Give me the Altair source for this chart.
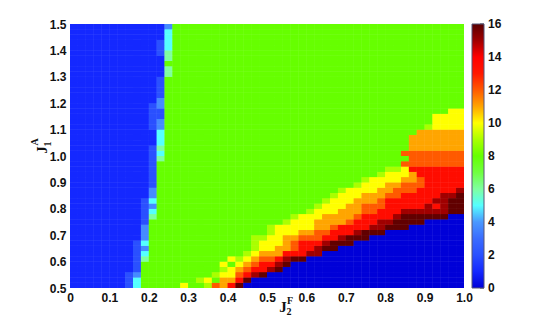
import altair as alt
import pandas as pd

X_TICKS = [0, 0.1, 0.2, 0.3, 0.4, 0.5, 0.6, 0.7, 0.8, 0.9, 1.0]
Y_TICKS = [0.5, 0.6, 0.7, 0.8, 0.9, 1.0, 1.1, 1.2, 1.3, 1.4, 1.5]
BAR_TICKS = [0, 2, 4, 6, 8, 10, 12, 14, 16]
STOP_VALUES = [0, 1, 2, 3, 4, 5, 6, 7, 8, 9, 10, 11, 12, 13, 14, 15, 16]
STOP_COLORS = ["#0000d8", "#1428ff", "#2a50ff", "#3a6cff", "#4a98ff", "#55ffff", "#7fffa0", "#70ff40",
               "#66ff00", "#aaff00", "#ffff00", "#ffa500", "#ff5a00", "#ff1800", "#ff0000", "#a00000", "#5a0000"]

CODES = {"B": 0, "b": 1, "l": 2, "m": 3.7, "c": 5, "a": 6, "G": 8, "L": 9, "Y": 10,
         "O": 11, "P": 12, "R": 13.5, "D": 15, "K": 15.9}

# column:code runs per row, bottom row first
ROWS = [
 "0:b 7:l 8:c 9:G 14:Y 15:G 17:L 18:P 19:O 20:R 21:K 22:B",
 "0:b 7:l 8:c 9:G 16:L 17:Y 18:G 19:O 21:R 22:K 23:B",
 "0:b 7:l 8:m 9:G 18:L 19:Y 21:P 22:R 23:D 24:K 25:B",
 "0:b 8:l 9:G 19:L 20:Y 21:O 22:P 23:R 24:R 25:D 26:K 27:B",
 "0:b 8:l 9:G 19:Y 20:G 21:Y 22:O 23:P 24:R 26:D 27:K 28:B",
 "0:b 8:l 9:a 10:G 20:Y 21:L 22:Y 23:O 24:P 26:R 27:D 28:K 30:B",
 "0:b 8:l 9:c 10:G 22:L 23:Y 24:O 27:R 30:D 32:B",
 "0:b 8:l 9:m 10:G 23:L 24:Y 26:O 28:P 29:R 31:D 32:K 34:B",
 "0:b 8:l 9:c 10:G 23:L 24:Y 27:O 28:P 29:R 32:D 33:K 36:B",
 "0:b 9:m 10:G 23:L 24:L 25:Y 27:O 29:P 32:R 34:D 35:K 38:B",
 "0:b 9:m 10:G 25:L 26:Y 29:O 31:P 33:R 36:D 37:K 40:B",
 "0:b 9:m 10:G 25:L 26:Y 31:O 33:P 34:R 38:D 40:K 43:B",
 "0:b 9:l 10:G 27:L 28:Y 31:O 35:P 36:R 39:D 41:K 45:B",
 "0:b 9:l 10:a 11:G 28:L 29:Y 32:O 36:P 37:R 41:D 42:K 48:B",
 "0:b 9:l 10:c 11:G 30:L 31:Y 34:O 37:P 39:R 42:D 48:K",
 "0:b 9:l 10:m 11:G 31:L 32:Y 35:O 37:P 40:R 45:D 46:R 47:D 48:K",
 "0:b 9:l 10:c 11:G 32:L 33:Y 36:O 39:P 40:R 46:D 48:K",
 "0:b 10:m 11:G 33:L 34:Y 37:O 40:P 42:R 47:D 49:K",
 "0:b 10:m 11:G 34:L 35:Y 39:O 41:P 44:R 49:D",
 "0:b 10:l 11:G 36:L 37:Y 40:O 42:P 45:R",
 "0:b 10:l 11:G 37:L 38:Y 42:O 44:P 45:R",
 "0:b 10:l 11:G 39:L 40:Y 43:O 44:R",
 "0:b 10:l 11:G 40:L 42:Y 43:R",
 "0:b 10:l 11:G 42:P",
 "0:b 10:l 11:a 12:G 43:P",
 "0:b 10:l 11:c 12:G 42:P",
 "0:b 10:l 11:a 12:G 43:O",
 "0:b 11:c 12:G 43:O",
 "0:b 11:c 12:G 43:O",
 "0:b 11:c 12:G 44:O",
 "0:b 10:l 11:m 12:G 45:L 46:Y",
 "0:b 10:l 11:m 12:G 46:Y",
 "0:b 10:l 11:l 12:G 46:Y",
 "0:b 10:l 11:l 12:G 48:Y",
 "0:b 10:l 11:m 12:G",
 "0:b 11:m 12:G",
 "0:b 11:l 12:G",
 "0:b 11:l 12:G",
 "0:b 11:l 12:G",
 "0:b 11:l 12:G",
 "0:b 12:a 13:G",
 "0:b 12:a 13:G",
 "0:b 12:G 13:G",
 "0:b 12:a 13:G",
 "0:b 11:l 12:a 13:G",
 "0:b 11:l 12:c 13:G",
 "0:b 11:l 12:c 13:G",
 "0:b 12:c 13:G",
 "0:b 12:c 13:G",
 "0:b 12:m 13:G",
]

N = 50
records = []
for r, spec in enumerate(ROWS):
    runs = [(int(p.split(":")[0]), p.split(":")[1]) for p in spec.split()]
    for i, (start, code) in enumerate(runs):
        end = runs[i + 1][0] if i + 1 < len(runs) else N
        for c in range(start, end):
            records.append({"x0": c / N, "x1": (c + 1) / N,
                            "y0": 0.5 + r / N, "y1": 0.5 + (r + 1) / N, "v": CODES[code]})
df = pd.DataFrame(records)

FONT = "Liberation Sans"
SERIF = "Liberation Serif"

color_scale = alt.Scale(domain=STOP_VALUES, range=STOP_COLORS, interpolate="rgb")
y_scale = alt.Scale(domain=[0.5, 1.5], nice=False, zero=False)
y_axis = alt.Axis(values=Y_TICKS, format=".1f", title=None, grid=False, domain=False, tickSize=0,
                  labelPadding=4, labelFlush=False, labelOverlap=False)

heat = alt.Chart(df).mark_rect(strokeWidth=0).encode(
    x=alt.X("x0:Q", scale=alt.Scale(domain=[0, 1], nice=False, zero=False),
            axis=alt.Axis(values=X_TICKS, title=None, grid=False, domain=False, tickSize=0, labelPadding=4,
                          labelFlush=False, labelOverlap=False,
                          labelExpr="datum.value == 0 ? '0' : format(datum.value, '.1f')")),
    x2="x1:Q",
    y=alt.Y("y0:Q", scale=y_scale, axis=y_axis),
    y2="y1:Q",
    color=alt.Color("v:Q", scale=color_scale,
                    legend=alt.Legend(orient="none", legendX=402, legendY=0, title=None,
                                      gradientLength=264, gradientThickness=12, values=BAR_TICKS,
                                      gradientStrokeColor="#555577", gradientStrokeWidth=1,
                                      labelExpr="''")),
)

bar_df = pd.DataFrame({"tick": [0.5 + v / 16 for v in BAR_TICKS], "txt": [str(v) for v in BAR_TICKS]})
bar_ticks = alt.Chart(bar_df).mark_rule(color="#333344", strokeWidth=1).encode(
    x=alt.value(410), x2=alt.value(414), y=alt.Y("tick:Q", scale=y_scale, axis=y_axis))
bar_labels = alt.Chart(bar_df).mark_text(
    font=FONT, fontWeight="bold", fontSize=12, color="#111111", align="left", baseline="middle", clip=False
).encode(x=alt.value(418), y=alt.Y("tick:Q", scale=y_scale, axis=y_axis), text="txt:N")


def label(text, px, py, size, angle=0):
    return alt.Chart(pd.DataFrame({"t": [text]})).mark_text(
        font=SERIF, fontWeight="bold", fontSize=size, color="#111111", angle=angle,
        align="center", baseline="middle", clip=False
    ).encode(text="t:N", x=alt.value(px), y=alt.value(py))


chart = alt.layer(
    heat,
    heat,
    bar_ticks,
    bar_labels,
    label("J", 213, 283, 15),
    label("F", 220, 277, 10),
    label("2", 219, 288, 10),
    label("J", -28, 126, 15, 270),
    label("A", -35, 118, 10, 270),
    label("1", -22, 120, 10, 270),
).properties(
    width=394, height=264,
    autosize=alt.AutoSizeParams(type="none"),
    padding={"left": 62, "top": 16, "right": 60, "bottom": 30},
).configure_view(strokeWidth=0).configure_axis(
    labelFont=FONT, labelFontWeight="bold", labelFontSize=12, labelColor="#111111"
)

chart.save("out.html", embed_options={"renderer": "svg", "actions": False})
